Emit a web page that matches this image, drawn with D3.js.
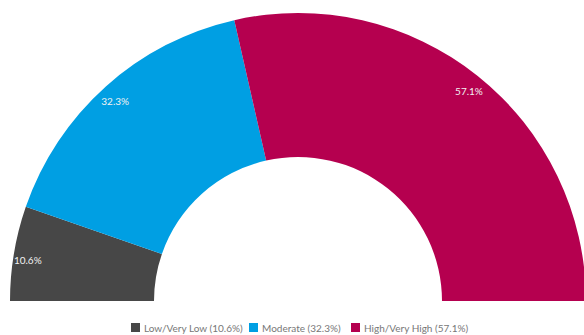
<!DOCTYPE html>
<html>
<head>
<meta charset="utf-8">
<script src="https://cdn.jsdelivr.net/npm/d3@7"></script>
<style>
  body { margin: 0; background: #fff; }
  svg { display: block; font-family: Lato, "Open Sans", sans-serif; }
</style>
</head>
<body>
<div id="chart"></div>
<script>
var w = 584, h = 335;
var cx = 298, cy = 301;
var outerR = 288, innerR = 144;

//Chart data
var categories = ["Low/Very Low", "Moderate", "High/Very High"];
var values = [10.6, 32.3, 57.1];
var colors = ["#474747", "#009fe3", "#b5004f"];

var formatPct = function(v) { return v.toFixed(1) + "%"; };

var svg = d3.select("#chart")
            .append("svg")
            .attr("width", w)
            .attr("height", h);

//Half donut, left to right
var pie = d3.pie()
            .sort(null)
            .startAngle(-Math.PI / 2)
            .endAngle(Math.PI / 2);

var arc = d3.arc()
            .innerRadius(innerR)
            .outerRadius(outerR);

var labelArc = d3.arc()
                 .innerRadius(274)
                 .outerRadius(274);

var slices = pie(values);

var g = svg.append("g")
           .attr("transform", "translate(" + cx + "," + cy + ")");

g.selectAll("path")
 .data(slices)
 .enter()
 .append("path")
 .attr("d", arc)
 .style("fill", function(d, i) { return colors[i]; });

//Value labels near outer edge
g.selectAll(".value-labels")
 .data(slices)
 .enter()
 .append("text")
 .attr("class", "value-labels")
 .attr("transform", function(d) { return "translate(" + labelArc.centroid(d) + ")"; })
 .attr("dy", "0.8em")
 .attr("text-anchor", "middle")
 .style("font-size", "10px")
 .style("fill", "#f2f2f2")
 .text(function(d) { return formatPct(d.data); });

//Legend
var legendX = [131, 249, 351];
var legend = svg.append("g")
                .selectAll("g")
                .data(categories)
                .enter()
                .append("g")
                .attr("transform", function(d, i) { return "translate(" + legendX[i] + ",323)"; });

legend.append("rect")
      .attr("width", 9)
      .attr("height", 9)
      .style("fill", function(d, i) { return colors[i]; });

legend.append("text")
      .attr("x", 13)
      .attr("y", 8.5)
      .style("font-size", "10px")
      .style("fill", "#777")
      .text(function(d, i) { return d + " (" + formatPct(values[i]) + ")"; });
</script>
</body>
</html>
